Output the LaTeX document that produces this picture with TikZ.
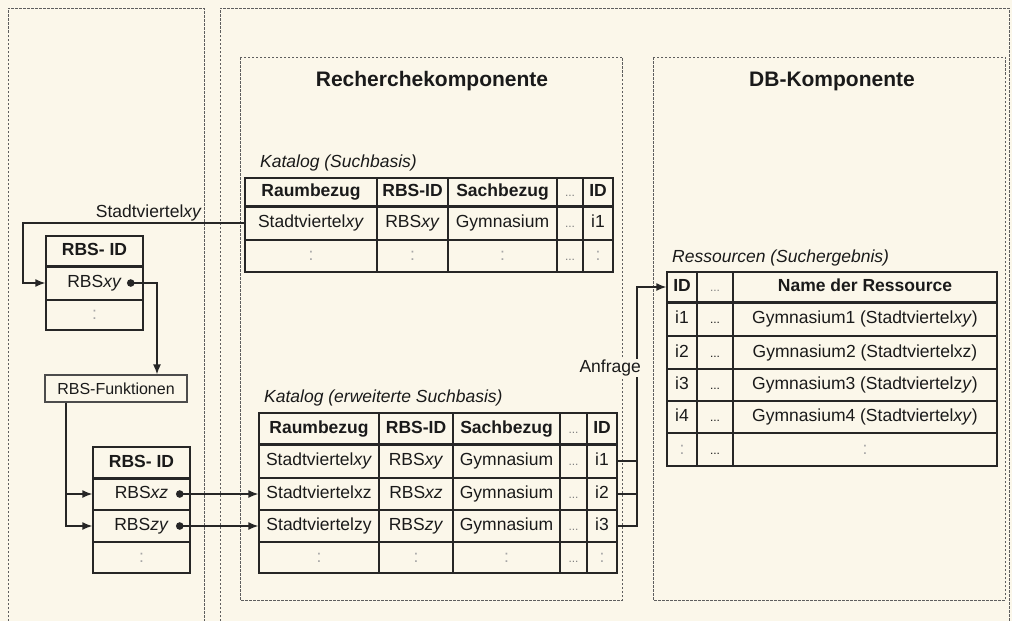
\documentclass[tikz,border=0pt]{standalone}
\usepackage{fontspec}
\setmainfont{Liberation Sans}
\usetikzlibrary{arrows.meta}
\definecolor{bg}{HTML}{FBF7EA}
\definecolor{linec}{HTML}{262626}
\definecolor{textc}{HTML}{1A1A1A}
\definecolor{dashc}{HTML}{5E5E5E}
\newcommand\fr{\fontsize{17.5}{20}\selectfont}
\newcommand\gdots{\textcolor{gray}{\fontsize{12}{14}\selectfont...}}
\newcommand\bdots{\fontsize{12}{14}\selectfont...}
\newcommand\vdt{\textcolor{gray!70}{:}}
\newcommand\tc[6]{\node[cellbox,minimum width={#4-#2},minimum height={#5-#3}] (#1) at ({(#2+#4)/2},{(#3+#5)/2}) {#6};}
\tikzset{
  cellbox/.style={draw=linec, line width=1.4pt, inner sep=0pt, font=\fr, text=textc, text height=12.5pt, text depth=3.5pt},
  hdr/.style={draw=linec, line width=2.6pt},
  dbox/.style={draw=dashc, line width=0.9pt, dash pattern=on 2.5pt off 1.5pt},
  conn/.style={draw=linec, line width=1.4pt},
  tip/.style={-{Latex[length=10pt,width=8pt]}},
  dottip/.style={{Circle[length=7.5pt]}-{Latex[length=10pt,width=8pt]}},
  lbl/.style={font=\fr, text=textc, inner sep=1pt},
  ilbl/.style={font=\fr\itshape, text=textc, inner sep=1pt},
  title/.style={font=\fontsize{21}{24}\selectfont\bfseries, text=textc},
  funbox/.style={draw=gray!60!black, line width=1.2pt, inner sep=0pt, font=\fontsize{16}{19}\selectfont, text=textc}
}
\begin{document}
\begin{tikzpicture}[x=1pt,y=-1pt]
\fill[bg] (0,0) rectangle (1012,621);
\useasboundingbox (0,0) rectangle (1012,621);
% containers
\draw[dbox] (8,621) -- (8,8) -- (204,8) -- (204,621);
\draw[dbox] (220,621) -- (220,8) -- (1009,8) -- (1009,621);
\draw[dbox] (240,57) rectangle (622,600);
\draw[dbox] (653,57) rectangle (1005,600);
\node[title] (tR) at (432,81) {Recherchekomponente};
\node[title] (tD) at (832,81) {DB-Komponente};
% Katalog (Suchbasis)
\node[ilbl,anchor=west] (lk1) at (259,163) {Katalog (Suchbasis)};
\tc{k1h1}{245}{178}{377}{206}{\bfseries Raumbezug}
\tc{k1h2}{377}{178}{448}{206}{\bfseries RBS-ID}
\tc{k1h3}{448}{178}{557}{206}{\bfseries Sachbezug}
\tc{k1h4}{557}{178}{583}{206}{\gdots}
\tc{k1h5}{583}{178}{613}{206}{\bfseries ID}
\tc{k1a1}{245}{206}{377}{240}{Stadtviertel\textit{xy}}
\tc{k1a2}{377}{206}{448}{240}{RBS\textit{xy}}
\tc{k1a3}{448}{206}{557}{240}{Gymnasium}
\tc{k1a4}{557}{206}{583}{240}{\gdots}
\tc{k1a5}{583}{206}{613}{240}{i1}
\tc{k1b1}{245}{240}{377}{272}{\vdt}
\tc{k1b2}{377}{240}{448}{272}{\vdt}
\tc{k1b3}{448}{240}{557}{272}{\vdt}
\tc{k1b4}{557}{240}{583}{272}{\gdots}
\tc{k1b5}{583}{240}{613}{272}{\vdt}
\draw[hdr] (k1h1.south west) -- (k1h5.south east);
% Katalog (erweiterte Suchbasis)
\node[ilbl,anchor=west] (lk2) at (263,398) {Katalog (erweiterte Suchbasis)};
\tc{k2h1}{259}{413}{379}{444}{\bfseries Raumbezug}
\tc{k2h2}{379}{413}{453}{444}{\bfseries RBS-ID}
\tc{k2h3}{453}{413}{560}{444}{\bfseries Sachbezug}
\tc{k2h4}{560}{413}{587}{444}{\gdots}
\tc{k2h5}{587}{413}{617}{444}{\bfseries ID}
\tc{k2a1}{259}{444}{379}{478}{Stadtviertel\textit{xy}}
\tc{k2a2}{379}{444}{453}{478}{RBS\textit{xy}}
\tc{k2a3}{453}{444}{560}{478}{Gymnasium}
\tc{k2a4}{560}{444}{587}{478}{\gdots}
\tc{k2a5}{587}{444}{617}{478}{i1}
\tc{k2b1}{259}{478}{379}{510}{Stadtviertelxz}
\tc{k2b2}{379}{478}{453}{510}{RBS\textit{xz}}
\tc{k2b3}{453}{478}{560}{510}{Gymnasium}
\tc{k2b4}{560}{478}{587}{510}{\gdots}
\tc{k2b5}{587}{478}{617}{510}{i2}
\tc{k2c1}{259}{510}{379}{542}{Stadtviertelzy}
\tc{k2c2}{379}{510}{453}{542}{RBS\textit{zy}}
\tc{k2c3}{453}{510}{560}{542}{Gymnasium}
\tc{k2c4}{560}{510}{587}{542}{\gdots}
\tc{k2c5}{587}{510}{617}{542}{i3}
\tc{k2d1}{259}{542}{379}{573}{\vdt}
\tc{k2d2}{379}{542}{453}{573}{\vdt}
\tc{k2d3}{453}{542}{560}{573}{\vdt}
\tc{k2d4}{560}{542}{587}{573}{\gdots}
\tc{k2d5}{587}{542}{617}{573}{\vdt}
\draw[hdr] (k2h1.south west) -- (k2h5.south east);
% Ressourcen
\node[ilbl,anchor=west] (lres) at (671,258) {Ressourcen (Suchergebnis)};
\tc{rh1}{667}{272}{697}{302}{\bfseries ID}
\tc{rh2}{697}{272}{733}{302}{\gdots}
\tc{rh3}{733}{272}{997}{302}{\bfseries Name der Ressource}
\tc{ra1}{667}{302}{697}{336}{i1}
\tc{ra2}{697}{302}{733}{336}{\bdots}
\tc{ra3}{733}{302}{997}{336}{Gymnasium1 (Stadtviertel\textit{xy})}
\tc{rb1}{667}{336}{697}{369}{i2}
\tc{rb2}{697}{336}{733}{369}{\bdots}
\tc{rb3}{733}{336}{997}{369}{Gymnasium2 (Stadtviertelxz)}
\tc{rc1}{667}{369}{697}{401}{i3}
\tc{rc2}{697}{369}{733}{401}{\bdots}
\tc{rc3}{733}{369}{997}{401}{Gymnasium3 (Stadtviertelz\textit{y})}
\tc{rd1}{667}{401}{697}{433}{i4}
\tc{rd2}{697}{401}{733}{433}{\bdots}
\tc{rd3}{733}{401}{997}{433}{Gymnasium4 (Stadtviertel\textit{xy})}
\tc{re1}{667}{433}{697}{466}{\vdt}
\tc{re2}{697}{433}{733}{466}{\bdots}
\tc{re3}{733}{433}{997}{466}{\vdt}
\draw[hdr] (rh1.south west) -- (rh3.south east);
% RBS-ID table 1
\tc{r1h}{46}{236}{143}{266}{\bfseries RBS- ID}
\tc{r1a}{46}{266}{143}{300}{RBS\textit{xy}}
\tc{r1b}{46}{300}{143}{330}{\vdt}
\draw[hdr] (r1h.south west) -- (r1h.south east);
% RBS-Funktionen
\node[funbox,minimum width=142,minimum height=27] (fun) at (116,388.5) {RBS-Funktionen};
% RBS-ID table 2
\tc{r2h}{93}{447}{190}{478}{\bfseries RBS- ID}
\tc{r2a}{93}{478}{190}{510}{RBS\textit{xz}}
\tc{r2b}{93}{510}{190}{542}{RBS\textit{zy}}
\tc{r2c}{93}{542}{190}{573}{\vdt}
\draw[hdr] (r2h.south west) -- (r2h.south east);
% connectors
\coordinate (cS) at (23,0);
\draw[conn,tip] (k1a1.west) -- (k1a1.west -| cS) |- (r1a.west);
\node[lbl,anchor=base east] (lS) at (203,217) {Stadtviertel\textit{xy}};
\coordinate (dxy) at (127,283);
\coordinate (fxy) at (157,0);
\draw[conn,dottip] (dxy) -| (fun.north -| fxy);
\coordinate (fbx) at (66,0);
\draw[conn,tip] (fun.south -| fbx) |- (r2a.west);
\draw[conn,tip] (fun.south -| fbx) |- (r2b.west);
\coordinate (dxz) at (176,494);
\coordinate (dzy) at (176,526);
\draw[conn,dottip] (dxz) -- (k2b1.west);
\draw[conn,dottip] (dzy) -- (k2c1.west);
\coordinate (ax) at (637,0);
\draw[conn] (k2a5.east) -- (k2a5.east -| ax);
\draw[conn] (k2b5.east) -- (k2b5.east -| ax);
\draw[conn,tip] (k2c5.east) -| (rh1.west -| ax) -- (rh1.west);
\node[lbl,fill=bg,anchor=east] (anf) at (642,368) {Anfrage};
\end{tikzpicture}
\end{document}
